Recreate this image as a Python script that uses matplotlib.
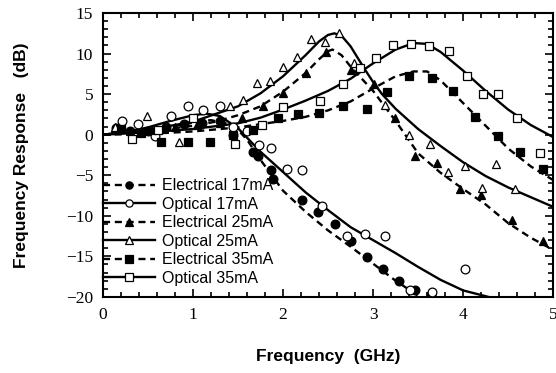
import matplotlib
matplotlib.use("Agg")
import matplotlib.pyplot as plt
from matplotlib.ticker import MultipleLocator

# ---- measured points ----
e17_f = [0.15, 0.3, 0.5, 0.7, 0.9, 1.1, 1.3, 1.45, 1.67, 1.72, 1.87, 1.89, 2.21, 2.39, 2.58, 2.75, 2.93, 3.11, 3.29, 3.47, 3.64]
e17_db = [0.8, 0.4, 0.5, 1.0, 1.3, 1.5, 1.7, 0.0, -2.1, -2.6, -4.4, -5.4, -8.1, -9.5, -11.0, -13.1, -15.1, -16.5, -18.1, -19.1, -19.8]

o17_f = [0.21, 0.39, 0.58, 0.76, 0.94, 1.11, 1.3, 1.45, 1.6, 1.73, 1.87, 2.04, 2.21, 2.43, 2.71, 2.91, 3.13, 3.41, 3.65, 4.02]
o17_db = [1.7, 1.3, -0.1, 2.3, 3.5, 3.0, 3.5, 1.0, 0.4, -1.3, -1.7, -4.2, -4.4, -8.8, -12.5, -12.2, -12.5, -19.1, -19.4, -16.5]

e25_f = [0.14, 0.3, 0.55, 0.8, 1.05, 1.3, 1.54, 1.78, 2.0, 2.25, 2.48, 2.75, 3.01, 3.24, 3.47, 3.71, 3.97, 4.2, 4.54, 4.89]
e25_db = [0.8, 0.5, 0.6, 1.0, 1.2, 1.5, 2.0, 3.6, 5.1, 7.6, 10.2, 8.0, 6.2, 2.0, -2.6, -3.5, -6.7, -7.4, -10.5, -13.1]

o25_f = [0.14, 0.49, 0.84, 1.41, 1.56, 1.71, 1.86, 2.0, 2.16, 2.31, 2.47, 2.62, 2.79, 3.13, 3.4, 3.63, 3.83, 4.02, 4.21, 4.36, 4.58]
o25_db = [1.0, 2.3, -0.9, 3.5, 4.3, 6.4, 6.6, 8.4, 9.6, 11.8, 11.4, 12.5, 8.9, 3.7, 0.0, -1.2, -4.6, -3.9, -6.6, -3.6, -6.7]

e35_f = [0.2, 0.42, 0.65, 0.95, 1.19, 1.45, 1.67, 1.94, 2.17, 2.4, 2.67, 2.93, 3.16, 3.4, 3.65, 3.89, 4.13, 4.39, 4.63, 4.89]
e35_db = [0.7, 0.2, -0.9, -0.9, -0.9, 0.0, 0.6, 2.1, 2.6, 2.7, 3.5, 3.2, 5.3, 7.2, 7.0, 5.4, 2.2, -0.2, -2.1, -4.2]

o35_f = [0.32, 0.61, 1.0, 1.47, 1.77, 2.0, 2.41, 2.67, 2.86, 3.03, 3.22, 3.42, 3.62, 3.84, 4.04, 4.22, 4.39, 4.6, 4.85]
o35_db = [-0.5, 0.6, 2.1, -1.1, 1.2, 3.4, 4.1, 6.2, 8.2, 9.5, 11.0, 11.2, 10.9, 10.3, 7.3, 5.0, 5.0, 2.1, -2.3]

# ---- fitted curves ----
fe17_f = [0, 0.25, 0.5, 0.75, 1.0, 1.2, 1.4, 1.5, 1.6, 1.75, 2.0, 2.25, 2.5, 2.75, 3.0, 3.25, 3.52]
fe17_db = [0, 0.3, 0.6, 1.0, 1.5, 1.8, 1.3, 0.6, -0.6, -3.1, -6.9, -9.5, -11.8, -13.8, -15.9, -18.0, -20.0]

fo17_f = [0, 0.25, 0.5, 0.75, 1.0, 1.15, 1.3, 1.5, 1.75, 2.0, 2.25, 2.5, 2.75, 3.0, 3.25, 3.5, 3.75, 4.0, 4.28]
fo17_db = [0, 0.3, 0.9, 1.7, 2.4, 2.6, 2.3, 0.8, -2.1, -4.6, -7.1, -9.3, -11.4, -13.0, -14.6, -16.3, -17.9, -19.2, -20.0]

fe25_f = [0, 0.5, 1.0, 1.25, 1.5, 1.75, 2.0, 2.25, 2.4, 2.5, 2.55, 2.65, 2.75, 3.0, 3.25, 3.5, 3.75, 4.0, 4.25, 4.5, 4.75, 5.0]
fe25_db = [0, 0.4, 1.1, 1.6, 2.4, 3.5, 5.3, 7.6, 9.3, 10.3, 10.5, 9.8, 8.4, 5.4, 1.7, -2.3, -4.7, -6.7, -8.6, -10.9, -12.7, -14.2]

fo25_f = [0, 0.5, 1.0, 1.5, 1.75, 2.0, 2.25, 2.4, 2.5, 2.57, 2.65, 2.75, 2.9, 3.0, 3.1, 3.25, 3.5, 3.75, 4.0, 4.25, 4.5, 4.75, 5.0]
fo25_db = [0, 0.6, 1.6, 3.5, 5.1, 7.2, 9.8, 11.5, 12.3, 12.5, 12.2, 10.9, 8.2, 6.5, 5.0, 3.2, 0.7, -1.4, -3.4, -5.1, -6.5, -7.7, -8.9]

fe35_f = [0, 0.5, 1.0, 1.5, 2.0, 2.25, 2.5, 2.75, 3.0, 3.25, 3.45, 3.6, 3.75, 4.0, 4.25, 4.5, 4.75, 5.0]
fe35_db = [0, 0.1, 0.4, 0.9, 1.7, 2.2, 3.0, 4.1, 5.7, 7.2, 7.8, 7.8, 6.7, 3.9, 1.1, -1.7, -3.9, -5.6]

fo35_f = [0, 0.5, 1.0, 1.5, 1.75, 2.0, 2.25, 2.5, 2.75, 3.0, 3.25, 3.45, 3.6, 3.75, 4.0, 4.25, 4.5, 4.75, 5.0]
fo35_db = [0, 0.3, 0.7, 1.4, 2.1, 3.1, 4.2, 5.4, 6.9, 8.8, 10.5, 11.3, 11.2, 10.2, 7.9, 5.4, 3.1, 1.2, -0.3]

labels = ["Electrical 17mA", "Optical 17mA", "Electrical 25mA",
          "Optical 25mA", "Electrical 35mA", "Optical 35mA"]

fig = plt.figure(figsize=(5.56, 3.73), dpi=100)
ax = fig.add_axes([0.185, 0.204, 0.81, 0.761])

ls_dash = (0, (3, 2))
series = [
    (e17_f, e17_db, fe17_f, fe17_db, 'o', 'k', ls_dash),
    (o17_f, o17_db, fo17_f, fo17_db, 'o', 'w', '-'),
    (e25_f, e25_db, fe25_f, fe25_db, '^', 'k', ls_dash),
    (o25_f, o25_db, fo25_f, fo25_db, '^', 'w', '-'),
    (e35_f, e35_db, fe35_f, fe35_db, 's', 'k', ls_dash),
    (o35_f, o35_db, fo35_f, fo35_db, 's', 'w', '-'),
]
handles = []
for (mf, md, cf, cd, mk, fc, ls), lab in zip(series, labels):
    ax.plot(cf, cd, color='k', lw=1.7, ls=ls, zorder=2)
    ax.plot(mf, md, ls='none', marker=mk, ms=6.3, mfc=fc, mec='k', mew=0.9, zorder=3, clip_on=True)
    h, = ax.plot([], [], color='k', lw=1.7, ls=ls, marker=mk, ms=5.2, mfc=fc, mec='k', mew=0.9, label=lab)
    handles.append(h)

ax.set_xlim(0, 5)
ax.set_ylim(-20, 15)
ax.xaxis.set_major_locator(MultipleLocator(1))
ax.xaxis.set_minor_locator(MultipleLocator(0.2))
ax.yaxis.set_major_locator(MultipleLocator(5))
ax.yaxis.set_minor_locator(MultipleLocator(1))
ax.tick_params(which='both', direction='in', top=True, right=True, width=1.2)
ax.tick_params(which='major', length=6, labelsize=12.5, pad=7)
ax.tick_params(which='minor', length=3.5)
for lab in ax.get_xticklabels() + ax.get_yticklabels():
    lab.set_family('Liberation Serif')
for s in ax.spines.values():
    s.set_linewidth(1.5)

ax.set_xlabel("Frequency  (GHz)", family='Liberation Sans', fontweight='bold', fontsize=12.5, labelpad=19)
ax.set_ylabel("Frequency Response   (dB)", family='Liberation Sans', fontweight='bold', fontsize=12.5, labelpad=27)

leg = ax.legend(handles=handles, loc='upper left', bbox_to_anchor=(0.0, 0.418), frameon=False,
                borderaxespad=0, borderpad=0, handlelength=3.25, handletextpad=0.45,
                labelspacing=0.22, prop={'family': 'Liberation Sans', 'size': 11.5})

fig.savefig("out.png", dpi=100)
